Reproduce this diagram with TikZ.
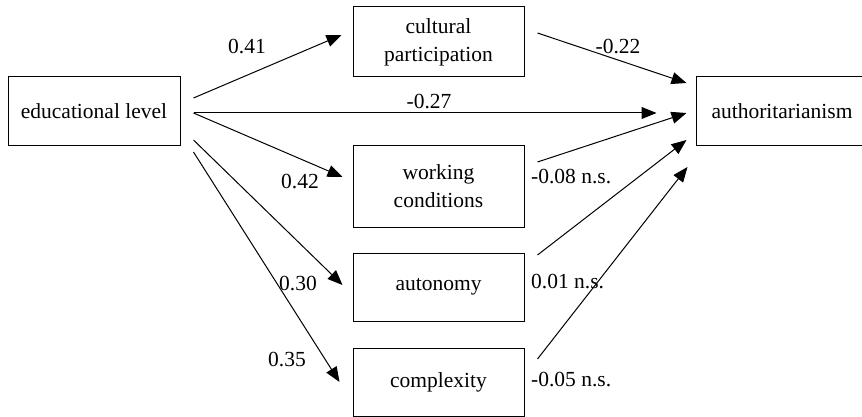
\documentclass[tikz,border=0pt]{standalone}
\usepackage{fontspec}
\setmainfont{Liberation Serif}
\newfontfamily\tmsfont{Liberation Serif}
\usetikzlibrary{arrows.meta}
\begin{document}
\begin{tikzpicture}[x=1pt,y=-1pt,
  box/.style={draw,line width=1pt,minimum width=172pt,align=center,inner sep=0pt,
    font=\tmsfont\fontsize{21.5}{28}\selectfont},
  lab/.style={inner sep=0pt,font=\tmsfont\fontsize{21.5}{26}\selectfont},
  arr/.style={line width=1pt,-{Triangle[length=15pt,width=12pt]}}]
\useasboundingbox (0,0) rectangle (862,417);
\node[box,minimum height=69pt] (edu) at (94,111.5) {educational level};
\node[box,minimum height=70pt,minimum width=171pt] (cult) at (438.5,42) {cultural\\participation};
\node[box,minimum height=81pt,minimum width=171pt] (work) at (438.5,186.5) {working\\conditions};
\node[box,minimum height=68pt,minimum width=171pt] (auto) at (438.5,287) {autonomy};
\node[box,minimum height=68pt,minimum width=171pt] (comp) at (438.5,382) {complexity};
\node[box,minimum height=69pt] (auth) at (782,111.5) {authoritarianism};

\draw[arr] ([shift={(13pt,13.5pt)}]edu.east) -- ([shift={(-11pt,7pt)}]cult.west);
\draw[arr] ([shift={(13pt,-1.5pt)}]edu.east) -- ([shift={(-39pt,-1.5pt)}]auth.west);
\draw[arr] ([shift={(13pt,-1.5pt)}]edu.east) -- ([shift={(-10pt,9.5pt)}]work.west);
\draw[arr] ([shift={(13pt,-28.5pt)}]edu.east) -- ([shift={(-10pt,2pt)}]auto.west);
\draw[arr] ([shift={(13pt,-40.5pt)}]edu.east) -- ([shift={(-13pt,0pt)}]comp.west);

\draw[arr] ([shift={(13pt,9pt)}]cult.east) -- ([shift={(-9pt,28.5pt)}]auth.west);
\draw[arr] ([shift={(13pt,24.5pt)}]work.east) -- ([shift={(-9pt,-1.5pt)}]auth.west);
\draw[arr] ([shift={(13pt,32pt)}]auto.east) -- ([shift={(-9pt,-28.5pt)}]auth.west);
\draw[arr] ([shift={(13pt,23pt)}]comp.east) -- ([shift={(-8pt,-55.5pt)}]auth.west);

\node[lab] (l1) at (247,47) {0.41};
\node[lab] (l2) at (300,182) {0.42};
\node[lab] (l3) at (298,284) {0.30};
\node[lab] (l4) at (287,360) {0.35};
\node[lab] (l5) at (429,102) {-0.27};
\node[lab] (l6) at (618,47) {-0.22};
\node[lab,anchor=west] (l7) at (531,177) {-0.08 n.s.};
\node[lab,anchor=west] (l8) at (531,282) {0.01 n.s.};
\node[lab,anchor=west] (l9) at (531,380) {-0.05 n.s.};
\end{tikzpicture}
\end{document}
